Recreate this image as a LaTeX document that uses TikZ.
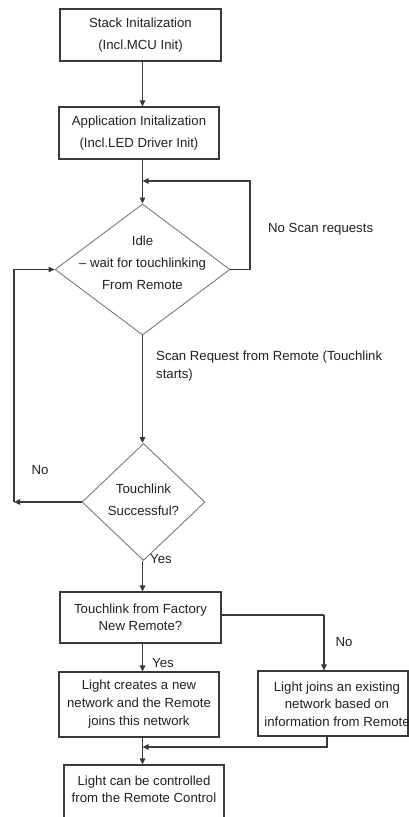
\documentclass[tikz,border=0pt]{standalone}
\usepackage{fontspec}
\setmainfont{Liberation Sans}
\usetikzlibrary{shapes.geometric,arrows.meta,calc}
\definecolor{boxline}{HTML}{3A3A3A}
\definecolor{dialine}{HTML}{7A7A7A}
\definecolor{txt}{HTML}{222222}
\tikzset{
  box/.style={draw=boxline,line width=1.1pt,rectangle,inner sep=0pt,align=center,text=txt},
  dia/.style={draw=dialine,line width=0.9pt,diamond,inner sep=0pt},
  lbl/.style={text=txt,inner sep=0pt,align=center},
  arr/.style={draw=boxline,line width=1.1pt,-{Triangle[length=6pt,width=5.5pt]}},
  ln/.style={draw=boxline,line width=1.1pt},
}
\begin{document}
\begin{tikzpicture}[x=1pt,y=-1pt,font=\fontsize{13.2}{22}\selectfont]
\clip (0,0) rectangle (409,817);
\fill[white] (0,0) rectangle (409,817);
% boxes
\node[box,minimum width=161pt,minimum height=52pt] (b1) at (140.5,35) {Stack Initalization\\(Incl.MCU Init)};
\node[box,minimum width=160pt,minimum height=52pt] (b2) at (139,133) {Application Initalization\\(Incl.LED Driver Init)};
% diamonds
\node[dia,minimum width=175pt,minimum height=131pt] (d1) at (142.5,269.5) {};
\node[lbl] (d1t) at (142.5,263) {Idle\\– wait for touchlinking\\From Remote};
\node[dia,minimum width=123pt,minimum height=117pt] (d2) at (143.5,502) {};
\node[lbl] (d2t) at (143.5,500) {Touchlink\\Successful?};
% lower boxes
\node[box,minimum width=161pt,minimum height=51pt,font=\fontsize{13.2}{17}\selectfont] (b3) at (140.5,617.5) {Touchlink from Factory\\New Remote?};
\node[box,minimum width=160pt,minimum height=65pt,font=\fontsize{13.2}{18}\selectfont] (b4) at (139,704.5) {Light creates a new\\network and the Remote\\joins this network};
\node[box,minimum width=150pt,minimum height=65pt] (b5) at (333,703.5) {};
\node[lbl,font=\fontsize{13.2}{17.5}\selectfont] (b5t) at (337,704) {Light joins an existing\\network based on\\information from Remote};
\node[box,minimum width=160pt,minimum height=70pt] (b6) at (144,800) {};
\node[lbl,font=\fontsize{13.2}{17}\selectfont] (b6t) at (144,789.5) {Light can be controlled\\from the Remote Control};
% coordinates
\coordinate (j1) at (142.5,181);
\coordinate (r1) at (250,181);
\coordinate (c1) at (14,502);
\coordinate (j2) at (142.5,747);
\coordinate (r5) at (324,615);
\coordinate (k5) at (327,747);
% connectors
\draw[arr] (b1.south -| d1.north) -- (b2.north -| d1.north);
\draw[arr] (b2.south -| d1.north) -- (d1.north);
\draw[arr] (d1.east) -| (r1) -- (j1);
\draw[arr] (d1.south) -- (d1.south |- d2.north);
\draw[arr] (d2.west) -- (c1);
\draw[arr] (c1) |- (d1.west);
\draw[arr] (d1.south |- d2.south) -- (d1.south |- b3.north);
\draw[ln] (b3.east |- r5) -- (r5);
\draw[arr] (r5) -- (r5 |- b5.north);
\draw[arr] (d1.south |- b3.south) -- (d1.south |- b4.north);
\draw[arr] (d1.south |- b4.south) -- (d1.south |- b6.north);
\draw[arr] (k5 |- b5.south) -- (k5) -- (j2);
% labels
\node[lbl,anchor=west] (l1) at (268,229) {No Scan requests};
\node[lbl,anchor=west] (l2) at (156,357) {Scan Request from Remote (Touchlink};
\node[lbl,anchor=west] (l3) at (156,375) {starts)};
\node[lbl] (l4) at (40,470) {No};
\node[lbl,anchor=west] (l5) at (150,559.5) {Yes};
\node[lbl] (l6) at (344,642) {No};
\node[lbl,anchor=west] (l7) at (152,663) {Yes};
\end{tikzpicture}
\end{document}
